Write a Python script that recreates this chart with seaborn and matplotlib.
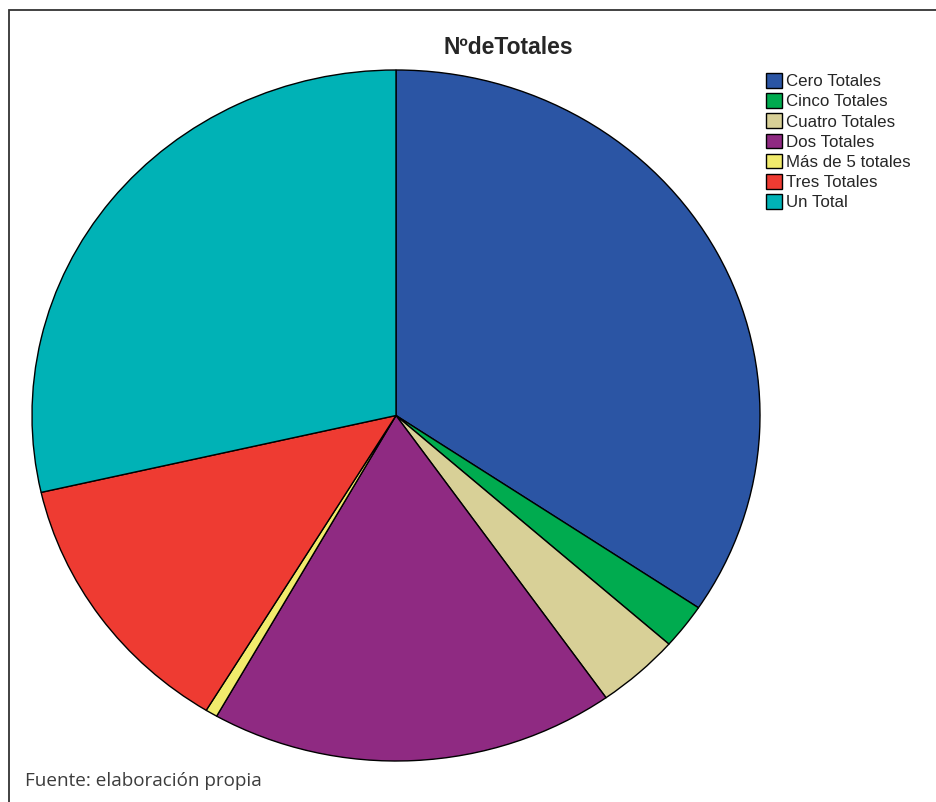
import matplotlib
matplotlib.use("Agg")
import matplotlib.pyplot as plt
import seaborn as sns
from matplotlib.patches import Rectangle

# categories and counts
categories = ["Cero Totales", "Cinco Totales", "Cuatro Totales", "Dos Totales",
              "Más de 5 totales", "Tres Totales", "Un Total"]
counts = [65, 4, 7, 34, 1, 24, 54]
colors = ["#2B55A4", "#00AB4F", "#D8D097", "#8F2A82", "#F1EB6C", "#EE3B32", "#00B2B6"]

sns.set_style("white")
plt.rcParams["font.family"] = ["Liberation Sans", "DejaVu Sans"]

W, H = 936, 802
fig = plt.figure(figsize=(W / 100, H / 100), dpi=100)

# pie area (slightly stretched horizontally like the original)
ax = fig.add_axes([32 / W, (H - 761) / H, 728 / W, 691 / H])
wedges, _ = ax.pie(counts, colors=colors, startangle=90, counterclock=False,
                   wedgeprops=dict(edgecolor="black", linewidth=1.0))
ax.set_aspect("auto")
ax.set_xlim(-1, 1)
ax.set_ylim(-1, 1)
ax.axis("off")
for w in wedges:
    w.set_clip_on(False)

fig.text(508 / W, 1 - 48 / H, "NºdeTotales", ha="center", va="center",
         fontsize=16.5, fontweight="bold")

fig.legend(wedges, categories, loc="upper left",
           bbox_to_anchor=(766 / W, 1 - 73 / H), frameon=False,
           borderpad=0, borderaxespad=0, handlelength=0.95, handleheight=0.95,
           handletextpad=0.25, labelspacing=0.24, fontsize=12.2)

fig.text(25 / W, 1 - 786 / H, "Fuente: elaboración propia", ha="left",
         va="baseline", fontsize=13.6, color="#3c3c3c", family=["Open Sans", "DejaVu Sans"])

# outer frame (left and top visible)
fig.add_artist(Rectangle((9 / W, -0.1), 1.2, (H - 10) / H + 0.1,
                         transform=fig.transFigure, fill=False,
                         edgecolor="#333333", linewidth=1.3))

fig.savefig("out.png", dpi=100)
